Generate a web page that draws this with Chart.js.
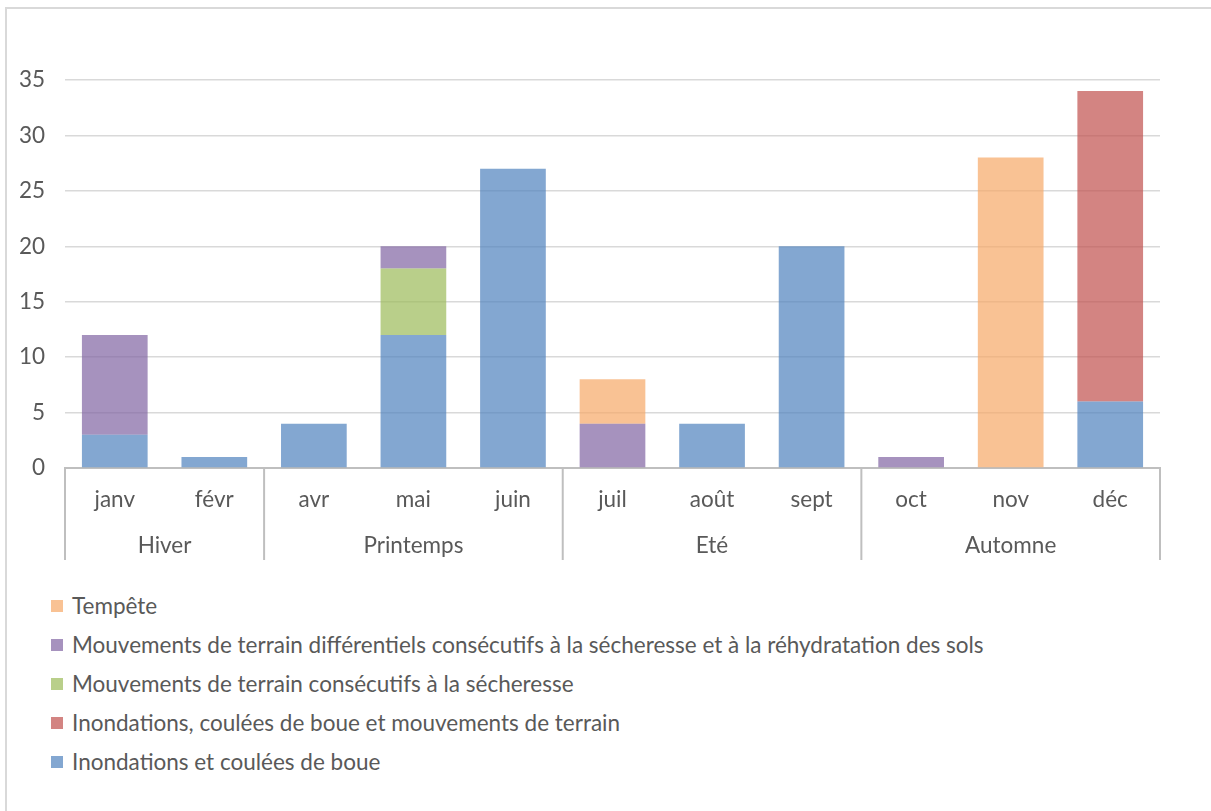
<!DOCTYPE html>
<html lang="fr">
<head>
<meta charset="utf-8">
<script src="https://cdn.jsdelivr.net/npm/chart.js@4/dist/chart.umd.min.js"></script>
<style>
  html, body { margin: 0; padding: 0; background: #fff; }
  #frame { position: relative; width: 1211px; height: 811px; overflow: hidden; font-family: Lato, "Open Sans", sans-serif; }
  #edge { position: absolute; left: 5px; top: 7px; width: 1300px; height: 900px; border-left: 2px solid #d9d9d9; border-top: 2px solid #d9d9d9; }
  #chart { position: absolute; left: 0; top: 0; }
  #legend { position: absolute; left: 51px; top: 587px; margin: 0; padding: 0; list-style: none; }
  #legend li { height: 38.8px; line-height: 38px; font-size: 22.5px; color: #595959; white-space: nowrap; display: flex; align-items: center; }
  #legend span.box { display: inline-block; width: 12px; height: 12px; margin-right: 9px; }
</style>
</head>
<body>
<div id="frame">
  <div id="edge"></div>
  <canvas id="chart" width="1211" height="580"></canvas>
  <ul id="legend"></ul>
</div>
<script>
// Months (no event in March), grouped by season
const months = ['janv', 'févr', 'avr', 'mai', 'juin', 'juil', 'août', 'sept', 'oct', 'nov', 'déc'];
const seasons = ['Hiver', 'Printemps', 'Eté', 'Automne'];
const seasonSizes = [2, 3, 3, 3];

// Number of arrêtés per type of natural disaster
const inondations      = [3, 1, 4, 12, 27, null, 4, 20, null, null, 6];
const inondationsMvt   = [null, null, null, null, null, null, null, null, null, null, 28];
const secheresse       = [null, null, null, 6, null, null, null, null, null, null, null];
const differentiels    = [9, null, null, 2, null, 4, null, null, 1, null, null];
const tempete          = [null, null, null, null, null, 4, null, null, null, 28, null];

const yTicks = [0, 5, 10, 15, 20, 25, 30, 35];

const TEXT = '#595959';
const FONT = 'Lato, "Open Sans", sans-serif';
const SIZE = 22.5;

const datasets = [
  { label: 'Inondations et coulées de boue', data: inondations, backgroundColor: 'rgba(79,129,189,0.7)' },
  { label: 'Inondations, coulées de boue et mouvements de terrain', data: inondationsMvt, backgroundColor: 'rgba(192,80,77,0.7)' },
  { label: 'Mouvements de terrain consécutifs à la sécheresse', data: secheresse, backgroundColor: 'rgba(155,187,89,0.7)' },
  { label: 'Mouvements de terrain différentiels consécutifs à la sécheresse et à la réhydratation des sols', data: differentiels, backgroundColor: 'rgba(128,100,162,0.7)' },
  { label: 'Tempête', data: tempete, backgroundColor: 'rgba(246,168,102,0.7)' }
];

// Second level of the category axis: season names and separators
const seasonAxis = {
  id: 'seasonAxis',
  afterDraw(chart) {
    const { ctx, chartArea, scales: { x } } = chart;
    const top = chartArea.bottom;
    const bottom = top + 92;
    const edges = [chartArea.left];
    let idx = 0;
    seasonSizes.forEach(n => {
      idx += n;
      if (idx < months.length) {
        edges.push((x.getPixelForValue(idx - 1) + x.getPixelForValue(idx)) / 2);
      } else {
        edges.push(chartArea.right);
      }
    });
    ctx.save();
    ctx.strokeStyle = '#bfbfbf';
    ctx.lineWidth = 2;
    edges.forEach(e => {
      ctx.beginPath();
      ctx.moveTo(e, top);
      ctx.lineTo(e, bottom);
      ctx.stroke();
    });
    ctx.fillStyle = TEXT;
    ctx.font = SIZE + 'px ' + FONT;
    ctx.textAlign = 'center';
    ctx.textBaseline = 'middle';
    seasons.forEach((name, s) => {
      ctx.fillText(name, (edges[s] + edges[s + 1]) / 2, top + 78);
    });
    ctx.restore();
  }
};

new Chart(document.getElementById('chart'), {
  type: 'bar',
  data: { labels: months, datasets },
  options: {
    responsive: false,
    animation: false,
    layout: { padding: { top: 80, left: 0, right: 51, bottom: 20 } },
    plugins: { legend: { display: false }, tooltip: { enabled: false } },
    datasets: { bar: { categoryPercentage: 1, barPercentage: 0.66, borderWidth: 0 } },
    scales: {
      x: {
        stacked: true,
        grid: { display: false, drawTicks: false },
        border: { display: true, color: '#bfbfbf', width: 2 },
        ticks: { color: TEXT, font: { family: FONT, size: SIZE }, padding: 18, maxRotation: 0, autoSkip: false },
        afterFit(scale) { scale.height = 92; }
      },
      y: {
        stacked: true,
        min: 0,
        max: 35,
        afterBuildTicks(scale) { scale.ticks = yTicks.map(v => ({ value: v })); },
        grid: { color: '#d9d9d9', lineWidth: 1.5, drawTicks: false },
        border: { display: false },
        ticks: { color: TEXT, font: { family: FONT, size: SIZE }, padding: 20 },
        afterFit(scale) { scale.width = 65; }
      }
    }
  },
  plugins: [seasonAxis]
});

// Legend listed from the top series of the stack down
const legend = document.getElementById('legend');
datasets.slice().reverse().forEach(ds => {
  const li = document.createElement('li');
  const box = document.createElement('span');
  box.className = 'box';
  box.style.background = ds.backgroundColor;
  li.appendChild(box);
  li.appendChild(document.createTextNode(ds.label));
  legend.appendChild(li);
});
</script>
</body>
</html>
